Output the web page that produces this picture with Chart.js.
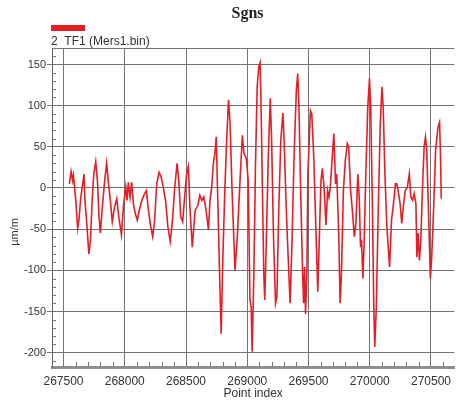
<!DOCTYPE html>
<html>
<head>
<meta charset="utf-8">
<script src="https://cdn.jsdelivr.net/npm/chart.js@4"></script>
<style>
html,body{margin:0;padding:0;background:#fff;}
#wrap{width:459px;height:400px;position:relative;}
</style>
</head>
<body>
<div id="wrap"><canvas id="c" width="459" height="400"></canvas></div>
<script>
const chartTitle = "Sgns";
const seriesName = "2  TF1 (Mers1.bin)";
const xTitle = "Point index";
const yTitle = "µm/m";
const xTicks = [267500, 268000, 268500, 269000, 269500, 270000, 270500];
const yTicks = [-200, -150, -100, -50, 0, 50, 100, 150];
const pointIndex = [
267548,267562,267575,267581,267600,267616,267626,267640,267653,267667,
267675,267688,267707,267720,267734,267747,267763,267777,267790,267801,
267817,267836,267852,267865,267882,267898,267917,267935,267951,267973,
267989,268008,268019,268029,268043,268056,268070,268086,268102,268118,
268140,268161,268177,268193,268212,268228,268244,268261,268280,268298,
268314,268333,268352,268371,268390,268406,268427,268441,268457,268473,
268489,268505,268519,268532,268551,268564,268575,268597,268613,268629,
268645,268664,268683,268696,268710,268723,268736,268747,268761,268774,
268787,268801,268817,268833,268847,268860,268876,268900,268919,268941,
268960,268973,268992,269008,269022,269032,269040,269054,269067,269081,
269094,269105,
269113,269124,269135,269143,269156,269172,269188,269199,269215,269231,269242,269258,269274,269291,269301,269318,269334,269350,269366,269382,269401,269412,269422,269436,
269452,269460,269468,269476,269487,269495,269506,269516,269527,269543,269559,269576,269592,269602,269613,269627,269643,269656,269667,269678,269691,269707,269721,269731,269748,269758,
269769,269785,269801,269817,269828,269844,269860,269874,269887,269903,269914,269925,269933,269944,269955,269968,269984,269998,270008,270022,270033,270041,270054,270070,270086,270100,
270110,270124,270140,270162,270178,270194,270210,270221,270231,270248,270261,270274,270290,270307,270323,270336,270350,270363,270377,270385,270395,270406,270417,270430,270444,270455,
270465,270479,270495,270506,270522,270538,270557,270570,270578,270584];
const strain = [
5,20,9,15,-15,-49,-39,-13,1,17,
-15,-39,-80,-64,-15,17,32,9,-35,-55,
-23,9,30,9,-15,-41,-23,-13,-35,-57,
-23,1,-15,7,-11,7,-19,-31,-39,-27,
-15,-7,-3,-27,-47,-59,-39,5,19,13,
1,-15,-47,-65,-39,-3,30,9,-35,-41,
-11,17,26,-23,-72,-47,-27,-21,-9,-15,
-11,-27,-51,-15,1,30,42,62,-23,-104,
-177,-84,-3,62,107,78,-3,-100,-59,9,
64,42,36,9,-136,-145,-199,-104,26,123,
147,152,
98,-3,-104,-136,-63,38,109,58,-63,-140,-132,-23,58,91,58,-23,-84,-140,-63,38,119,139,98,-3,
-104,-140,-96,-153,-104,17,58,94,90,38,-43,-126,-43,9,24,1,-45,-3,-11,1,30,66,5,17,-63,-140,
-104,-3,34,54,50,-3,-31,-59,-43,17,-11,-72,-63,-110,-63,17,98,133,98,-23,-144,-193,-144,-23,78,123,
98,17,-47,-96,-39,-19,5,5,-3,-19,-43,-23,-3,1,17,-11,-15,-7,-19,-84,-55,-88,-63,-3,50,62,
46,-23,-110,-84,-23,46,74,80,38,-13];

const lineColor = 'rgb(232,28,36)';
const gridColor = '#727272';

const points = pointIndex.map((x, i) => ({x: x, y: strain[i]}));

const decor = {
  id: 'decor',
  afterDraw(chart) {
    const ctx = chart.ctx;
    const a = chart.chartArea;
    const xs = chart.scales.x, ys = chart.scales.y;
    ctx.save();
    ctx.strokeStyle = gridColor; ctx.lineWidth = 1;
    ctx.beginPath(); ctx.moveTo(a.left, a.top + 0.5); ctx.lineTo(a.right, a.top + 0.5); ctx.stroke();
    ctx.beginPath();
    for (let v = -210; v <= 160; v += 10) {
      if (v % 50 === 0) continue;
      const py = Math.round(ys.getPixelForValue(v)) + 0.5;
      if (py < a.top || py > a.bottom) continue;
      ctx.moveTo(a.left, py); ctx.lineTo(a.left + 4, py);
    }
    for (let v = 267500; v <= 270700; v += 100) {
      if (v % 500 === 0) continue;
      const px = Math.round(xs.getPixelForValue(v)) + 0.5;
      if (px < a.left || px > a.right) continue;
      ctx.moveTo(px, a.bottom - 1.5); ctx.lineTo(px, a.bottom - 5.5);
    }
    ctx.stroke();
    ctx.fillStyle = '#222';
    ctx.font = 'bold 16px "Liberation Serif", serif';
    ctx.textAlign = 'center'; ctx.textBaseline = 'alphabetic';
    ctx.fillText(chartTitle, 247.5, 18);
    ctx.fillStyle = lineColor;
    ctx.fillRect(51, 25, 34, 6);
    ctx.fillStyle = '#333';
    ctx.font = '12px "Liberation Sans", Arial, sans-serif';
    ctx.textAlign = 'left';
    ctx.fillText(seriesName, 51, 45);
    ctx.save();
    ctx.translate(15, 232);
    ctx.rotate(-Math.PI / 2);
    ctx.textAlign = 'center'; ctx.textBaseline = 'middle';
    ctx.font = '11px "Liberation Sans", Arial, sans-serif';
    ctx.fillStyle = '#333';
    ctx.fillText(yTitle, 0, 0);
    ctx.restore();
    ctx.restore();
  }
};

new Chart(document.getElementById('c'), {
  type: 'line',
  data: {
    datasets: [{
      label: seriesName,
      data: points,
      borderColor: lineColor,
      borderWidth: 1.6,
      pointRadius: 0,
      tension: 0,
      fill: false
    }]
  },
  options: {
    responsive: false,
    animation: false,
    devicePixelRatio: 1,
    layout: { padding: { top: 48, left: 0, right: 0, bottom: 0 } },
    plugins: { legend: { display: false }, title: { display: false }, tooltip: { enabled: false } },
    scales: {
      x: {
        type: 'linear',
        min: 267406,
        max: 270691,
        afterBuildTicks: (s) => { s.ticks = xTicks.map(v => ({ value: v })); },
        afterFit: (s) => { s.height = 32.5; },
        grid: { color: gridColor, lineWidth: 1, drawTicks: false },
        border: { display: true, color: '#8c8c8c', width: 3 },
        ticks: { color: '#333', padding: 8, maxRotation: 0, autoSkip: false,
          font: { family: '"Liberation Sans", Arial, sans-serif', size: 12, lineHeight: 1.1 },
          callback: (v) => String(v) },
        title: { display: true, text: xTitle, color: '#333', padding: { top: 0, bottom: 0 },
          font: { family: '"Liberation Sans", Arial, sans-serif', size: 12, lineHeight: 1 } }
      },
      y: {
        type: 'linear',
        min: -218,
        max: 170,
        afterBuildTicks: (s) => { s.ticks = yTicks.map(v => ({ value: v })); },
        afterFit: (s) => { s.width = 52; },
        grid: { color: gridColor, lineWidth: 1, drawTicks: true, tickLength: 5 },
        border: { display: true, color: '#666', width: 1 },
        ticks: { color: '#333', padding: 1, autoSkip: false,
          font: { family: '"Liberation Sans", Arial, sans-serif', size: 11 },
          callback: (v) => String(v) },
        title: { display: false }
      }
    }
  },
  plugins: [decor]
});
</script>
</body>
</html>
